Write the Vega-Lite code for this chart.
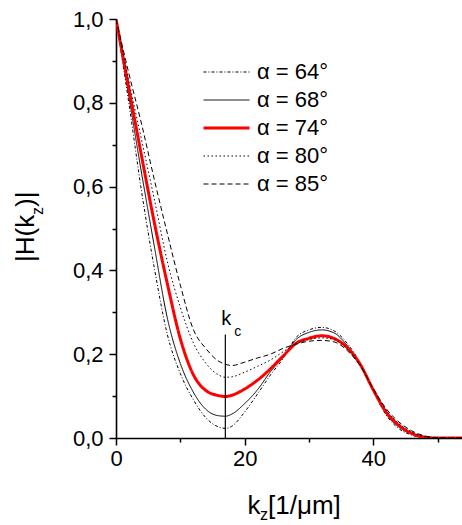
{
  "$schema": "https://vega.github.io/schema/vega-lite/v6.json",
  "width": 346,
  "height": 419,
  "autosize": {"type": "none"},
  "padding": {"left": 116, "top": 19, "right": 0, "bottom": 87},
  "config": {
    "view": {"stroke": null},
    "font": "Liberation Sans",
    "axis": {
      "grid": false,
      "labelFlush": false,
      "domainColor": "#000000",
      "domainWidth": 1.6,
      "tickColor": "#000000",
      "tickWidth": 1.5,
      "labelColor": "#000000",
      "labelFont": "Liberation Sans",
      "labelFontSize": 22,
      "titleColor": "#000000",
      "titleFont": "Liberation Sans",
      "titleFontWeight": "normal"
    },
    "legend": {
      "orient": "none",
      "legendX": 86,
      "legendY": 42,
      "title": null,
      "symbolType": "stroke",
      "symbolSize": 2116,
      "labelFont": "Liberation Sans",
      "labelFontSize": 22,
      "labelColor": "#000000",
      "labelOffset": 6,
      "clipHeight": 22,
      "rowPadding": 6,
      "padding": 0
    }
  },
  "resolve": {"axis": {"x": "independent", "y": "independent"}},
  "layer": [
    {
      "data": {
        "values": [
          {"series": "α = 64°", "k": 0, "H": 1.0}, {"series": "α = 64°", "k": 2, "H": 0.799}, {"series": "α = 64°", "k": 4, "H": 0.586}, {"series": "α = 64°", "k": 6, "H": 0.402}, {"series": "α = 64°", "k": 8, "H": 0.246}, {"series": "α = 64°", "k": 10, "H": 0.154}, {"series": "α = 64°", "k": 12, "H": 0.092}, {"series": "α = 64°", "k": 14, "H": 0.048}, {"series": "α = 64°", "k": 16, "H": 0.026}, {"series": "α = 64°", "k": 17, "H": 0.023}, {"series": "α = 64°", "k": 18, "H": 0.028}, {"series": "α = 64°", "k": 20, "H": 0.062}, {"series": "α = 64°", "k": 22, "H": 0.105}, {"series": "α = 64°", "k": 24, "H": 0.15}, {"series": "α = 64°", "k": 26, "H": 0.19}, {"series": "α = 64°", "k": 28, "H": 0.24}, {"series": "α = 64°", "k": 30, "H": 0.258}, {"series": "α = 64°", "k": 32, "H": 0.264}, {"series": "α = 64°", "k": 34, "H": 0.255}, {"series": "α = 64°", "k": 36, "H": 0.225}, {"series": "α = 64°", "k": 38, "H": 0.178}, {"series": "α = 64°", "k": 40, "H": 0.112}, {"series": "α = 64°", "k": 42, "H": 0.055}, {"series": "α = 64°", "k": 44, "H": 0.022}, {"series": "α = 64°", "k": 46, "H": 0.007}, {"series": "α = 64°", "k": 48, "H": 0.0}, {"series": "α = 64°", "k": 50, "H": 0.0}, {"series": "α = 64°", "k": 52, "H": 0.0}, {"series": "α = 64°", "k": 54, "H": 0.0},
          {"series": "α = 68°", "k": 0, "H": 1.0}, {"series": "α = 68°", "k": 2, "H": 0.815}, {"series": "α = 68°", "k": 4, "H": 0.63}, {"series": "α = 68°", "k": 6, "H": 0.454}, {"series": "α = 68°", "k": 8, "H": 0.285}, {"series": "α = 68°", "k": 10, "H": 0.178}, {"series": "α = 68°", "k": 12, "H": 0.11}, {"series": "α = 68°", "k": 14, "H": 0.068}, {"series": "α = 68°", "k": 16, "H": 0.053}, {"series": "α = 68°", "k": 17, "H": 0.052}, {"series": "α = 68°", "k": 18, "H": 0.057}, {"series": "α = 68°", "k": 20, "H": 0.082}, {"series": "α = 68°", "k": 22, "H": 0.115}, {"series": "α = 68°", "k": 24, "H": 0.158}, {"series": "α = 68°", "k": 26, "H": 0.193}, {"series": "α = 68°", "k": 28, "H": 0.235}, {"series": "α = 68°", "k": 30, "H": 0.252}, {"series": "α = 68°", "k": 32, "H": 0.258}, {"series": "α = 68°", "k": 34, "H": 0.25}, {"series": "α = 68°", "k": 36, "H": 0.22}, {"series": "α = 68°", "k": 38, "H": 0.177}, {"series": "α = 68°", "k": 40, "H": 0.114}, {"series": "α = 68°", "k": 42, "H": 0.058}, {"series": "α = 68°", "k": 44, "H": 0.026}, {"series": "α = 68°", "k": 46, "H": 0.009}, {"series": "α = 68°", "k": 48, "H": 0.001}, {"series": "α = 68°", "k": 50, "H": 0.0}, {"series": "α = 68°", "k": 52, "H": 0.0}, {"series": "α = 68°", "k": 54, "H": 0.0},
          {"series": "α = 74°", "k": 0, "H": 1.0}, {"series": "α = 74°", "k": 2, "H": 0.834}, {"series": "α = 74°", "k": 4, "H": 0.671}, {"series": "α = 74°", "k": 6, "H": 0.511}, {"series": "α = 74°", "k": 8, "H": 0.367}, {"series": "α = 74°", "k": 10, "H": 0.237}, {"series": "α = 74°", "k": 12, "H": 0.152}, {"series": "α = 74°", "k": 14, "H": 0.113}, {"series": "α = 74°", "k": 16, "H": 0.101}, {"series": "α = 74°", "k": 17, "H": 0.099}, {"series": "α = 74°", "k": 18, "H": 0.102}, {"series": "α = 74°", "k": 20, "H": 0.117}, {"series": "α = 74°", "k": 22, "H": 0.138}, {"series": "α = 74°", "k": 24, "H": 0.165}, {"series": "α = 74°", "k": 26, "H": 0.196}, {"series": "α = 74°", "k": 28, "H": 0.226}, {"series": "α = 74°", "k": 30, "H": 0.238}, {"series": "α = 74°", "k": 32, "H": 0.244}, {"series": "α = 74°", "k": 34, "H": 0.237}, {"series": "α = 74°", "k": 36, "H": 0.215}, {"series": "α = 74°", "k": 38, "H": 0.175}, {"series": "α = 74°", "k": 40, "H": 0.115}, {"series": "α = 74°", "k": 42, "H": 0.062}, {"series": "α = 74°", "k": 44, "H": 0.03}, {"series": "α = 74°", "k": 46, "H": 0.011}, {"series": "α = 74°", "k": 48, "H": 0.002}, {"series": "α = 74°", "k": 50, "H": 0.0}, {"series": "α = 74°", "k": 52, "H": 0.0}, {"series": "α = 74°", "k": 54, "H": 0.0},
          {"series": "α = 80°", "k": 0, "H": 1.0}, {"series": "α = 80°", "k": 2, "H": 0.851}, {"series": "α = 80°", "k": 4, "H": 0.71}, {"series": "α = 80°", "k": 6, "H": 0.567}, {"series": "α = 80°", "k": 8, "H": 0.42}, {"series": "α = 80°", "k": 10, "H": 0.312}, {"series": "α = 80°", "k": 12, "H": 0.228}, {"series": "α = 80°", "k": 14, "H": 0.178}, {"series": "α = 80°", "k": 16, "H": 0.15}, {"series": "α = 80°", "k": 17, "H": 0.145}, {"series": "α = 80°", "k": 18, "H": 0.146}, {"series": "α = 80°", "k": 20, "H": 0.157}, {"series": "α = 80°", "k": 22, "H": 0.171}, {"series": "α = 80°", "k": 24, "H": 0.186}, {"series": "α = 80°", "k": 26, "H": 0.206}, {"series": "α = 80°", "k": 28, "H": 0.225}, {"series": "α = 80°", "k": 30, "H": 0.235}, {"series": "α = 80°", "k": 32, "H": 0.239}, {"series": "α = 80°", "k": 34, "H": 0.234}, {"series": "α = 80°", "k": 36, "H": 0.212}, {"series": "α = 80°", "k": 38, "H": 0.174}, {"series": "α = 80°", "k": 40, "H": 0.116}, {"series": "α = 80°", "k": 42, "H": 0.066}, {"series": "α = 80°", "k": 44, "H": 0.034}, {"series": "α = 80°", "k": 46, "H": 0.014}, {"series": "α = 80°", "k": 48, "H": 0.003}, {"series": "α = 80°", "k": 50, "H": 0.0}, {"series": "α = 80°", "k": 52, "H": 0.0}, {"series": "α = 80°", "k": 54, "H": 0.0},
          {"series": "α = 85°", "k": 0, "H": 1.0}, {"series": "α = 85°", "k": 2, "H": 0.87}, {"series": "α = 85°", "k": 4, "H": 0.748}, {"series": "α = 85°", "k": 6, "H": 0.614}, {"series": "α = 85°", "k": 8, "H": 0.487}, {"series": "α = 85°", "k": 10, "H": 0.365}, {"series": "α = 85°", "k": 12, "H": 0.26}, {"series": "α = 85°", "k": 14, "H": 0.213}, {"series": "α = 85°", "k": 16, "H": 0.183}, {"series": "α = 85°", "k": 17, "H": 0.176}, {"series": "α = 85°", "k": 18, "H": 0.173}, {"series": "α = 85°", "k": 20, "H": 0.181}, {"series": "α = 85°", "k": 22, "H": 0.191}, {"series": "α = 85°", "k": 24, "H": 0.2}, {"series": "α = 85°", "k": 26, "H": 0.214}, {"series": "α = 85°", "k": 28, "H": 0.224}, {"series": "α = 85°", "k": 30, "H": 0.231}, {"series": "α = 85°", "k": 32, "H": 0.233}, {"series": "α = 85°", "k": 34, "H": 0.229}, {"series": "α = 85°", "k": 36, "H": 0.208}, {"series": "α = 85°", "k": 38, "H": 0.172}, {"series": "α = 85°", "k": 40, "H": 0.118}, {"series": "α = 85°", "k": 42, "H": 0.07}, {"series": "α = 85°", "k": 44, "H": 0.038}, {"series": "α = 85°", "k": 46, "H": 0.017}, {"series": "α = 85°", "k": 48, "H": 0.005}, {"series": "α = 85°", "k": 50, "H": 0.001}, {"series": "α = 85°", "k": 52, "H": 0.0}, {"series": "α = 85°", "k": 54, "H": 0.0}
        ]
      },
      "mark": {"type": "line", "interpolate": "monotone", "clip": true},
      "encoding": {
        "x": {
          "field": "k", "type": "quantitative",
          "scale": {"domain": [0, 53.8], "nice": false, "zero": false},
          "axis": {
            "values": [0, 10, 20, 30, 40, 50],
            "labelExpr": "datum.value % 20 == 0 ? datum.label : ''",
            "tickSize": {"condition": {"test": "datum.value % 20 == 0", "value": 7}, "value": 4},
            "labelPadding": 3,
            "title": "k",
            "titleFontSize": 26,
            "titleAlign": "left",
            "titleBaseline": "alphabetic",
            "titleX": 131,
            "titleY": 75
          }
        },
        "y": {
          "field": "H", "type": "quantitative",
          "scale": {"domain": [0, 1], "nice": false},
          "axis": {
            "values": [0, 0.1, 0.2, 0.3, 0.4, 0.5, 0.6, 0.7, 0.8, 0.9, 1.0],
            "labelExpr": "round(datum.value * 10) % 2 == 0 ? replace(format(datum.value, '.1f'), '.', ',') : ''",
            "tickSize": {"condition": {"test": "round(datum.value * 10) % 2 == 0", "value": 7}, "value": 4},
            "labelPadding": 6,
            "title": "|H(k",
            "titleFontSize": 26,
            "titleAngle": -90,
            "titleAlign": "left",
            "titleBaseline": "alphabetic",
            "titleX": -82.5,
            "titleY": 242.5
          }
        },
        "color": {
          "field": "series", "type": "ordinal",
          "scale": {"type": "ordinal", "domain": ["α = 64°", "α = 68°", "α = 74°", "α = 80°", "α = 85°"], "range": ["#000000", "#000000", "#ff0000", "#000000", "#000000"]}
        },
        "strokeDash": {
          "field": "series", "type": "ordinal",
          "scale": {"type": "ordinal", "domain": ["α = 64°", "α = 68°", "α = 74°", "α = 80°", "α = 85°"], "range": [[3, 2, 1, 2], [1, 0], [1, 0], [1.5, 2.5], [5, 3]]}
        },
        "strokeWidth": {
          "field": "series", "type": "ordinal",
          "scale": {"type": "ordinal", "domain": ["α = 64°", "α = 68°", "α = 74°", "α = 80°", "α = 85°"], "range": [1, 1, 3, 1, 1]}
        }
      }
    },
    {
      "data": {"values": [{"k": 17, "H": 0, "H2": 0.247, "lab": "k", "sub": "c"}]},
      "mark": {"type": "rule", "color": "#000000", "strokeWidth": 1.2},
      "encoding": {
        "x": {
          "field": "k", "type": "quantitative",
          "axis": {
            "orient": "top", "domain": false, "ticks": false, "labels": false,
            "title": "z", "titleFontSize": 16, "titleAlign": "left", "titleBaseline": "alphabetic",
            "titleAngle": 0, "titleX": 143.5, "titleY": 500
          }
        },
        "y": {
          "field": "H", "type": "quantitative",
          "axis": {
            "orient": "right", "domain": false, "ticks": false, "labels": false,
            "title": "z", "titleFontSize": 16, "titleAngle": -90, "titleAlign": "left", "titleBaseline": "alphabetic",
            "titleX": -420, "titleY": 195.5
          }
        },
        "y2": {"field": "H2"}
      }
    },
    {
      "data": {"values": [{"k": 17, "H": 0, "H2": 0.247, "lab": "k", "sub": "c"}]},
      "mark": {"type": "text", "align": "left", "baseline": "alphabetic", "dx": -4, "dy": -10, "fontSize": 20, "color": "#000000"},
      "encoding": {
        "x": {
          "field": "k", "type": "quantitative",
          "axis": {
            "orient": "top", "domain": false, "ticks": false, "labels": false,
            "title": "[1/μm]", "titleFontSize": 26, "titleAlign": "left", "titleBaseline": "alphabetic",
            "titleAngle": 0, "titleX": 151.5, "titleY": 494
          }
        },
        "y": {
          "field": "H2", "type": "quantitative",
          "axis": {
            "orient": "right", "domain": false, "ticks": false, "labels": false,
            "title": ")|", "titleFontSize": 26, "titleAngle": -90, "titleAlign": "left", "titleBaseline": "alphabetic",
            "titleX": -428.5, "titleY": 187.5
          }
        },
        "text": {"field": "lab"}
      }
    },
    {
      "data": {"values": [{"k": 17, "H": 0, "H2": 0.247, "lab": "k", "sub": "c"}]},
      "mark": {"type": "text", "align": "left", "baseline": "alphabetic", "dx": 9, "dy": 1, "fontSize": 14, "color": "#000000"},
      "encoding": {
        "x": {"field": "k", "type": "quantitative", "axis": null},
        "y": {"field": "H2", "type": "quantitative", "axis": null},
        "text": {"field": "sub"}
      }
    }
  ]
}
